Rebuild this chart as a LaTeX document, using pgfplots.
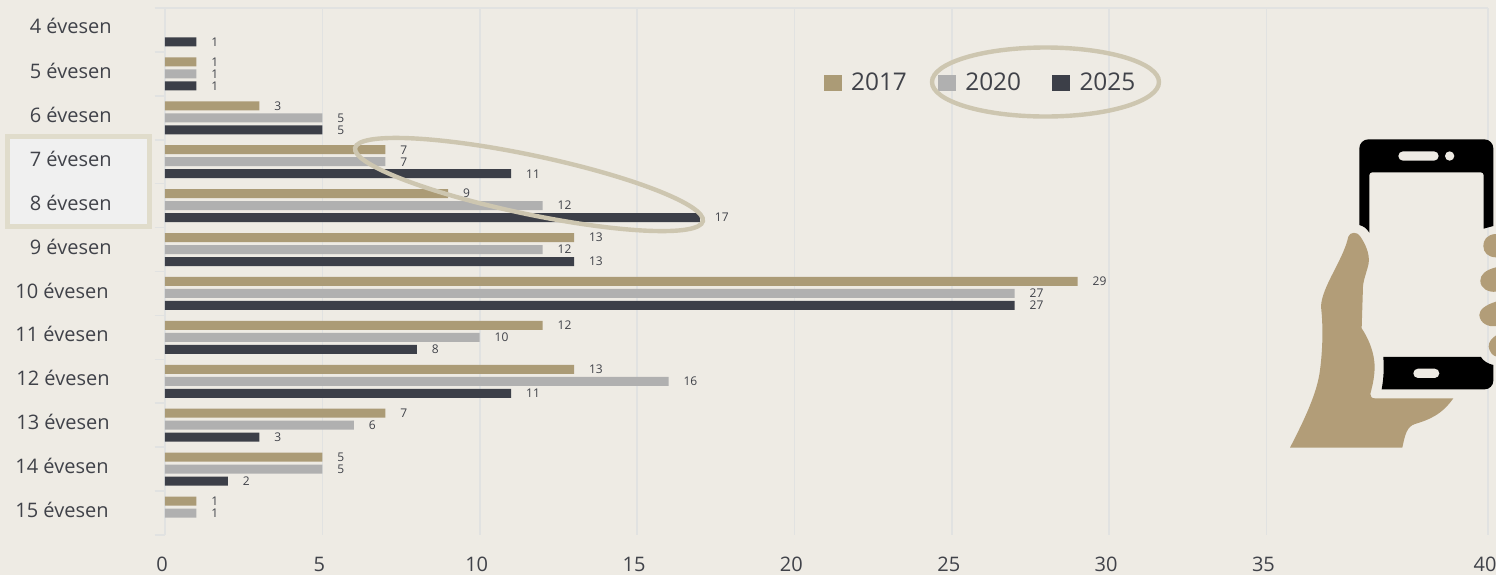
\documentclass[border=0pt]{standalone}
\usepackage{fontspec}
\setmainfont{Open Sans}
\usepackage{pgfplots}
\pgfplotsset{compat=1.18}
\definecolor{bg}{HTML}{EEEBE4}
\definecolor{c17}{HTML}{AB9B76}
\definecolor{c20}{HTML}{B0B0B0}
\definecolor{c25}{HTML}{3C3F48}
\definecolor{gridc}{HTML}{E1E2E1}
\definecolor{txt}{HTML}{404249}
\definecolor{oval}{HTML}{CDC6B0}
\definecolor{hand}{HTML}{B29D78}
\definecolor{boxline}{HTML}{E0DCCB}
\definecolor{boxfill}{HTML}{F0F0F0}
\pgfplotsset{barstyle/.style 2 args={xbar, bar width=4.5pt, draw=none, fill=#1, bar shift=#2,
  nodes near coords, every node near coord/.append style={font=\fontsize{6}{7}\selectfont, text=txt,
    anchor=west, inner sep=0pt, xshift=7.3pt, yshift=#2}}}
\tikzset{px/.style={x=0.5pt,y=-0.5pt}}
\begin{document}
\begin{tikzpicture}[px]
  \useasboundingbox (0,0) rectangle (1496,575);
  \fill[bg] (0,0) rectangle (1496,575);
  % highlighted rows
  \draw[draw=boxline, line width=2.5pt, fill=boxfill] (7.5,136.5) rectangle (149,226.5);
  \draw[gridc, line width=0.8pt] (155,8) -- (1488,8);
  \begin{axis}[
    at={(82.5pt,-267.5pt)}, anchor=south west,
    scale only axis, width=661.5pt, height=263.5pt,
    xmin=0, xmax=42.04, ymin=-0.5, ymax=11.5, y dir=reverse,
    xtick={0,5,10,15,20,25,30,35,42.04},
    xticklabels={0,5,10,15,20,25,30,35,40},
    ytick={0,...,11},
    yticklabels={\raisebox{1pt}{4 évesen},5 évesen,6 évesen,7 évesen,8 évesen,9 évesen,10 évesen\hspace*{1.5pt},11 évesen\hspace*{1.5pt},12 évesen\hspace*{1pt},13 évesen\hspace*{1pt},14 évesen\hspace*{1.5pt},15 évesen\hspace*{1.5pt}},
    minor ytick={-0.5,0.5,1.5,2.5,3.5,4.5,5.5,6.5,7.5,8.5,9.5,10.5,11.5},
    xmajorgrids, grid style={gridc, line width=0.8pt},
    axis line style={draw=none},
    major tick length=0pt, minor tick length=5pt, tick align=outside,
    minor tick style={gridc, line width=0.8pt},
    tick pos=left,
    /pgf/number format/assume math mode=true,
    tick label style={font=\fontsize{10}{12}\selectfont, text=txt, inner sep=0pt},
    yticklabel style={anchor=east, xshift=-26.5pt, yshift=1.5pt},
    xticklabel style={anchor=center, yshift=-14.5pt, xshift=-1.5pt},
    legend style={draw=none, fill=none, at={(0.4932,0.857)}, anchor=west, font=\fontsize{12.2}{14}\selectfont,
      text=txt, legend columns=3, /tikz/every even column/.append style={column sep=13.6pt},
      /tikz/every odd column/.append style={column sep=2.6pt}},
    legend cell align=left,
    legend image code/.code={\fill[#1] (0pt,-4pt) rectangle (9pt,4pt);},
  ]
    \addplot[barstyle={c17}{6pt}] coordinates {(1,1)(3,2)(7,3)(9,4)(13,5)(29,6)(12,7)(13,8)(7,9)(5,10)(1,11)};
    \addplot[barstyle={c20}{0pt}] coordinates {(1,1)(5,2)(7,3)(12,4)(12,5)(27,6)(10,7)(16,8)(6,9)(5,10)(1,11)};
    \addplot[barstyle={c25}{-6pt}] coordinates {(1,0)(1,1)(5,2)(11,3)(17,4)(13,5)(27,6)(8,7)(11,8)(3,9)(2,10)};
    \legend{2017,2020,2025}
  \end{axis}
  % ovals
  \draw[oval, line width=2.2pt] (1045.5,82) ellipse [x radius=113.5, y radius=34.5];
  \draw[oval, line width=2.2pt, rotate around={-11.9:(529,184.5)}] (529,184.5) ellipse [x radius=177.7, y radius=29.4];
  % phone and hand, in 1/3 px units of the crop
  \begin{scope}[shift={(1240,120)}, x=0.5pt/3, y=-0.5pt/3]
    \fill[black] (358,315) -- (358,85) arc[start angle=180,end angle=270,radius=27] -- (733,58)
      arc[start angle=270,end angle=360,radius=27] -- (760,318) -- (731,326) -- (731,165)
      arc[start angle=0,end angle=-90,radius=8] -- (396,157)
      arc[start angle=-90,end angle=-180,radius=8] -- (388,338) .. controls (380,325) and (370,318) .. cycle;
    \fill[black] (430,711) -- (723,711) .. controls (728,722) and (745,732) .. (760,735) -- (760,782)
      arc[start angle=0,end angle=90,radius=26] -- (425,808) .. controls (432,770) and (432,740) .. cycle;
    \fill[bg] (489,94) -- (582,94) arc[start angle=-90,end angle=90,radius=14] -- (489,122) arc[start angle=90,end angle=270,radius=14] -- cycle;
    \fill[bg] (629,108) circle[radius=14];
    \fill[bg] (534,746) -- (584,746) arc[start angle=-90,end angle=90,radius=14] -- (534,774) arc[start angle=90,end angle=270,radius=14] -- cycle;
    \fill[hand] (150,983) .. controls (190,905) and (232,820) .. (240,750)
      .. controls (248,690) and (250,620) .. (243,560)
      .. controls (245,500) and (310,420) .. (325,350)
      .. controls (330,335) and (352,335) .. (360,348)
      .. controls (375,370) and (390,400) .. (386,430)
      .. controls (382,450) and (370,480) .. (369,500)
      -- (365,625)
      .. controls (395,670) and (408,720) .. (403,760)
      .. controls (400,790) and (395,805) .. (391,822)
      .. controls (391,830) and (395,835) .. (405,835)
      -- (640,835)
      .. controls (605,885) and (565,900) .. (525,912)
      .. controls (500,920) and (495,945) .. (487,983) -- cycle;
    \fill[hand] (790,342) -- (765,342) .. controls (740,345) and (730,360) .. (730,378)
      .. controls (730,398) and (745,412) .. (768,412) -- (790,412) -- cycle;
    \fill[hand] (790,440) -- (768,442) .. controls (735,450) and (721,465) .. (721,482)
      .. controls (721,505) and (745,518) .. (768,515) -- (790,515) -- cycle;
    \fill[hand] (790,543) -- (768,545) .. controls (735,555) and (718,570) .. (718,585)
      .. controls (720,610) and (745,622) .. (768,618) -- (790,618) -- cycle;
    \fill[hand] (790,645) -- (770,645) .. controls (755,655) and (746,665) .. (746,680)
      .. controls (748,695) and (758,708) .. (770,710) -- (790,710) -- cycle;
  \end{scope}
\end{tikzpicture}
\end{document}
